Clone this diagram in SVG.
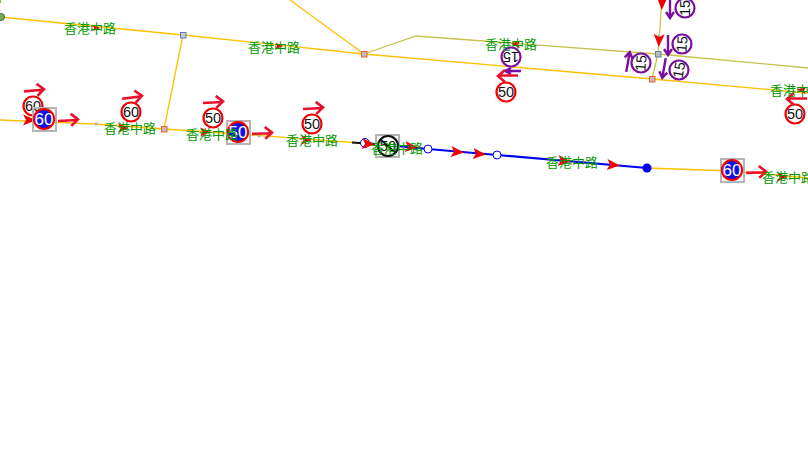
<svg xmlns="http://www.w3.org/2000/svg" width="808" height="451" viewBox="0 0 808 451">
<style>
text{font-family:"Noto Sans CJK SC","Liberation Sans",sans-serif}
.y{fill:none;stroke:#ffc000;stroke-width:1.300}
.k{fill:none;stroke:#c8c050;stroke-width:1.300}
.b{fill:none;stroke:#0000f0;stroke-width:2.200}
.lb{font-size:13px;fill:#009a00;text-anchor:middle}
.n{font-size:14.500px;fill:#111;text-anchor:middle;font-family:"Liberation Sans",sans-serif}
.w{font-size:17px;fill:#fff;text-anchor:middle;font-family:"Liberation Sans",sans-serif}
.rc{fill:#fff;stroke:#f00000;stroke-width:2.200}
.pc{fill:#fff;stroke:#7a0fa0;stroke-width:2.200}
.bc{fill:#1010e0;stroke:#f00000;stroke-width:2.200}
.sq{fill:none;stroke:#b4b4b4;stroke-width:2}
.ra{fill:none;stroke:#e8102c;stroke-width:2.600}
.pa{fill:none;stroke:#7a0fa0;stroke-width:2.400}
.tr{fill:#f00000}
.wn{fill:#fff;stroke:#0000f0;stroke-width:1}
.dot{fill:#b0b0b0}
</style>
<defs>
<path id="ar" d="M-10 0.5H9M3 -6L10 0L3 6"/>
<path id="pr" d="M-10 0H9M4 -4L10 0L4 4"/>
<path id="tri" d="M-6 -5.500L7 0L-6 5.500L-3 0Z"/>
</defs>
<g id="connectors">
<path class="y" d="M0 17L183 35L364 54L652 79L808 93"/>
<path class="y" d="M183 35L164 129"/>
<path class="y" d="M290 0L364 54"/>
<path class="k" d="M364 54L416 36L658 54L808 68"/>
<path class="k" d="M662 0L658 54L652 79"/>
<path class="y" d="M0 120L95 124L164 129L238 134L360 143"/>
<path d="M352 142.500L366 143.500" fill="none" stroke="#111" stroke-width="2"/>
<path class="b" d="M365 143L428 149L497 155L647 168"/>
<path class="y" d="M647 168L732 171L808 178"/>
</g>
<g id="road-nodes">
<circle cx="1" cy="17" r="3.500" fill="#70b050" stroke="#555"/>
<rect x="0" y="0" width="1" height="3" fill="#70d020"/>
<rect x="180.500" y="32.500" width="5.500" height="5.500" fill="#c8c8d8" stroke="#6080b0"/>
<rect x="361.500" y="51.500" width="5.500" height="5.500" fill="#bbb" stroke="#f06030"/>
<rect x="655.500" y="51.500" width="5.500" height="5.500" fill="#bbb" stroke="#6080a0"/>
<rect x="649.500" y="76.500" width="5.500" height="5.500" fill="#bbb" stroke="#f06030"/>
<rect x="161.500" y="126.500" width="5.500" height="5.500" fill="#bbb" stroke="#f06030"/>
<circle class="dot" cx="96" cy="124" r="1.500"/>
<circle class="dot" cx="259" cy="136" r="1.500"/>
<circle class="dot" cx="659" cy="36" r="1.500"/>
<circle class="wn" cx="365" cy="143" r="4.500"/>
<circle class="wn" cx="428" cy="149" r="4"/>
<circle class="wn" cx="497" cy="155" r="4"/>
<circle cx="647" cy="168" r="4.500" fill="#0000f0"/>
</g>
<g id="sign-a">
<use href="#ar" class="ra" transform="translate(34 90) rotate(-5)"/>
<circle class="rc" cx="33" cy="106" r="9.500"/><text class="n" x="33" y="111">60</text>
<use href="#tri" class="tr" transform="translate(29 120)"/>
<rect class="sq" x="33" y="108" width="23" height="23"/>
<circle class="bc" cx="44" cy="119" r="10"/><text class="w" x="44" y="125">60</text>
<use href="#ar" class="ra" transform="translate(68 120) rotate(-3)"/>
</g>
<g id="sign-b">
<use href="#ar" class="ra" transform="translate(132 97) rotate(-7)"/>
<circle class="rc" cx="131" cy="112" r="9.500"/><text class="n" x="131" y="117">60</text>
</g>
<g id="sign-c">
<use href="#ar" class="ra" transform="translate(213 102) rotate(-3)"/>
<circle class="rc" cx="213" cy="118" r="9.500"/><text class="n" x="213" y="123">50</text>
<rect class="sq" x="227" y="121" width="23" height="23"/>
<circle class="bc" cx="238" cy="132" r="10"/><text class="w" x="238" y="138">50</text>
<use href="#ar" class="ra" transform="translate(262 133) rotate(-2)"/>
</g>
<g id="sign-d">
<use href="#ar" class="ra" transform="translate(313 108) rotate(-3)"/>
<circle class="rc" cx="312" cy="124" r="9.500"/><text class="n" x="312" y="129">50</text>
</g>
<g id="sign-e">
<rect class="sq" x="376" y="135" width="23" height="22"/>
<circle cx="388" cy="146" r="10" fill="#fff" stroke="#111" stroke-width="2.200"/><text class="n" x="388" y="151">50</text>
<path d="M380 139L396 153" stroke="#111" stroke-width="1.800"/>
</g>
<g id="sign-f">
<rect class="sq" x="721" y="159" width="23" height="23"/>
<circle class="bc" cx="732" cy="170" r="10"/><text class="w" x="732" y="176">60</text>
<use href="#ar" class="ra" transform="translate(756 172) rotate(-2)"/>
</g>
<g id="sign-g">
<circle class="pc" cx="511" cy="57" r="9.500"/><text class="n" transform="translate(511 57) rotate(180)" y="5">15</text>
<path class="pa" d="M521 71H505M511 68L505 71L511 74"/>
<use href="#ar" class="ra" transform="translate(508 76) rotate(180)"/>
<circle class="rc" cx="506" cy="92" r="9.500"/><text class="n" x="506" y="97">50</text>
</g>
<g id="sign-h">
<circle class="pc" cx="685" cy="8" r="9.500"/><text class="n" transform="translate(685 8) rotate(-90)" y="5">15</text>
<use href="#pr" class="pa" transform="translate(670 8) rotate(90)"/>
<circle class="pc" cx="682" cy="44" r="9.500"/><text class="n" transform="translate(682 44) rotate(-85)" y="5">15</text>
<use href="#pr" class="pa" transform="translate(668 45) rotate(90)"/>
<circle class="pc" cx="679" cy="70" r="9.500"/><text class="n" transform="translate(679 70) rotate(-80)" y="5">15</text>
<use href="#pr" class="pa" transform="translate(664 68) rotate(100)"/>
<circle class="pc" cx="641" cy="63" r="9.500"/><text class="n" transform="translate(641 63) rotate(-85)" y="5">15</text>
<use href="#pr" class="pa" transform="translate(628 62) rotate(-80)"/>
</g>
<g id="sign-i">
<circle class="rc" cx="795" cy="114" r="9.500"/><text class="n" x="795" y="119">50</text>
<use href="#ar" class="ra" transform="translate(797 99) rotate(180)"/>
</g>
<g id="direction-arrows">
<use href="#tri" class="tr" transform="translate(368 144) rotate(5)"/>
<use href="#tri" class="tr" transform="translate(411 147) rotate(5)"/>
<use href="#tri" class="tr" transform="translate(457 152) rotate(5)"/>
<use href="#tri" class="tr" transform="translate(479 154) rotate(5)"/>
<use href="#tri" class="tr" transform="translate(564 161) rotate(5)"/>
<use href="#tri" class="tr" transform="translate(613 165) rotate(5)"/>
<use href="#tri" class="tr" transform="translate(662 3) rotate(92)"/>
<use href="#tri" class="tr" transform="translate(659 40) rotate(92)"/>
<use href="#tri" class="tr" transform="translate(96 28) scale(.6)"/>
<use href="#tri" class="tr" transform="translate(279 46) scale(.6)"/>
<use href="#tri" class="tr" transform="translate(516 44) rotate(185) scale(.7)"/>
<use href="#tri" class="tr" transform="translate(802 90) rotate(185) scale(.7)"/>
<use href="#tri" class="tr" transform="translate(123 128) scale(.8)"/>
<use href="#tri" class="tr" transform="translate(205 132) scale(.8)"/>
<use href="#tri" class="tr" transform="translate(306 140) scale(.8)"/>
<use href="#tri" class="tr" transform="translate(782 177) scale(.8)"/>
</g>
<g id="labels">
<text class="lb" x="90" y="33">香港中路</text>
<text class="lb" x="274" y="52">香港中路</text>
<text class="lb" x="511" y="49">香港中路</text>
<text class="lb" x="796" y="95">香港中路</text>
<text class="lb" x="130" y="133">香港中路</text>
<text class="lb" x="212" y="139">香港中路</text>
<text class="lb" x="312" y="145">香港中路</text>
<text class="lb" x="397" y="153">香港中路</text>
<text class="lb" x="572" y="167">香港中路</text>
<text class="lb" x="788" y="182">香港中路</text>
</g>
</svg>
